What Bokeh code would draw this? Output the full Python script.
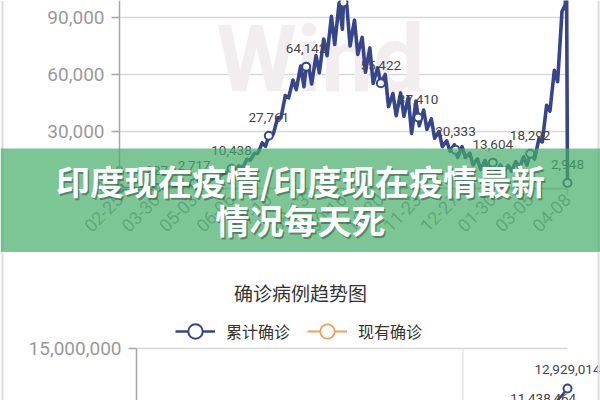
import math
from bokeh.plotting import figure
from bokeh.models import (Range1d, FixedTicker, NumeralTickFormatter, BoxAnnotation,
                          Label, LabelSet, Legend, LegendItem, Span, ColumnDataSource)
from bokeh.layouts import column
from bokeh.embed import file_html
from bokeh.resources import INLINE
from bokeh.core.properties import value

# ---------------- data ----------------
tick_days = [0, 34, 68, 102, 136, 170, 204, 238, 272, 306, 340, 374, 408]
tick_labels = ["02-25", "03-30", "05-03", "06-06", "07-10", "08-13", "09-16",
               "10-20", "11-23", "12-27", "01-30", "03-05", "04-08"]

daily_days = [0, 4, 7, 11, 14, 18, 21, 25, 28, 32, 34, 35, 39, 42, 46, 49, 53, 56, 60, 63,
              67, 68, 70, 74, 77, 81, 84, 88, 91, 95, 98, 101, 102, 105, 109, 112, 116, 119,
              123, 126, 130, 133, 136, 137, 140, 144, 147, 151, 154, 158, 161, 165, 168, 170,
              172, 175, 179, 182, 186, 189, 193, 196, 200, 203, 204, 207, 210, 214, 217, 221,
              224, 228, 231, 235, 238, 242, 245, 249, 252, 256, 259, 263, 266, 270, 272, 273,
              277, 280, 284, 287, 291, 294, 298, 301, 305, 306, 308, 312, 315, 319, 322, 326,
              329, 333, 336, 339, 340, 343, 347, 350, 354, 357, 361, 364, 368, 371, 374, 375,
              378, 382, 385, 389, 392, 396, 399, 403, 406, 407, 408]
daily_cases = [0, 0, 1, 20, 12, 30, 20, 80, 100, 150, 227, 300, 600, 550, 900, 1000, 1300, 1400,
               1800, 1500, 2200, 2717, 2600, 3700, 3500, 4900, 4600, 6600, 6400, 8000, 8200,
               9900, 10438, 9900, 11900, 10700, 15400, 14900, 18500, 18500, 24000, 22200, 27761,
               28600, 28500, 37100, 37100, 48900, 47700, 57100, 52000, 64400, 53600, 64142,
               65000, 55000, 70000, 60900, 78700, 69900, 90600, 75800, 97600, 83800, 97894,
               96400, 75000, 88600, 70600, 79500, 61200, 74000, 55300, 63500, 55422, 60000,
               43000, 50000, 38300, 50300, 38000, 47900, 29000, 46000, 37410, 33000, 41300,
               31100, 36600, 26500, 30000, 22000, 25100, 19600, 23000, 20333, 16400, 22000,
               16300, 18600, 12500, 15600, 10000, 14800, 9100, 13000, 13604, 8600, 12400, 9100,
               12100, 9100, 14200, 10600, 16700, 12300, 18292, 18700, 15400, 26300, 24500,
               43800, 40700, 62200, 56200, 93200, 96900, 126800, 2948]

marked_days = [0, 34, 68, 102, 136, 170, 204, 238, 272, 306, 340, 374, 408]
marked_cases = [0, 227, 2717, 10438, 27761, 64142, 97894, 55422, 37410, 20333, 13604, 18292, 2948]
daily_yticks = [0, 30000, 60000, 90000]

cum_days = [0, 34, 68, 102, 136, 170, 204, 238, 272, 306, 340, 374, 385, 392, 399, 404, 408]
cum_cases = [3, 1251, 42533, 246628, 820916, 2461190, 5118253, 7597063, 9177840, 10207871,
             10746183, 11173761, 11438464, 11846000, 12340000, 12660000, 12929014]
cum_marked_days = [385, 408]
cum_marked_cases = [11438464, 12929014]
active_days = [0, 34, 68, 102, 136, 170, 204, 238, 272, 306, 340, 374, 408]
active_cases = [0, 1100, 29000, 125000, 280000, 660000, 1010000, 740000, 440000, 280000,
                165000, 180000, 900000]
cum_yticks = [0, 3000000, 6000000, 9000000, 12000000, 15000000]
highlight_day = 309

title_text = "确诊病例趋势图"
legend_labels = ["累计确诊", "现有确诊"]
banner_lines = ["印度现在疫情/印度现在疫情最新", "情况每天死"]
watermark = "Wind"

# ---------------- layout / style constants ----------------
W = 600
H_TOP, H_BOT = 252, 148
NAVY = "#37468a"
ORANGE = "#eda15a"
GRID = "#d8d8d8"
AXIS = "#a6a6a6"
TICK_TXT = "#9a9a9a"
BORDER = "#dcdcdc"
FONT_NUM = "Roboto"
FONT_CJK = "Noto Sans CJK SC"

# top panel: day 0 at x=119px, day 408 at x=567px; value 0 at y=188px, 57px per 30,000
T_X0, T_PXD = 119.0, 448.0 / 408
T_Y0, T_PXV = 188.0, 57.0 / 30000
top_x = Range1d(-T_X0 / T_PXD, (W - T_X0) / T_PXD)
top_y = Range1d(-(H_TOP - T_Y0) / T_PXV, T_Y0 / T_PXV)

# bottom panel (starts at y=252): day 0 at x=136, 15M at local y=96, 58px per 3M
B_X0, B_PXD = 136.0, 431.0 / 408
B_Y15, B_PXV = 96.0, 58.0 / 3000000
bot_x = Range1d(-B_X0 / B_PXD, (W - B_X0) / B_PXD)
bot_y = Range1d(15000000 - (H_BOT - B_Y15) / B_PXV, 15000000 + B_Y15 / B_PXV)


def style_axis(ax, ticks, size):
    ax.ticker = FixedTicker(ticks=ticks)
    ax.axis_line_color = AXIS
    ax.axis_line_width = 1.5
    ax.major_tick_line_color = AXIS
    ax.major_tick_line_width = 1.5
    ax.major_tick_in = 0
    ax.minor_tick_line_color = None
    ax.major_label_text_font = FONT_NUM
    ax.major_label_text_font_size = size
    ax.major_label_text_color = TICK_TXT


def bounded_grid(fig, ticks, x_lo, x_hi):
    fig.xgrid.grid_line_color = None
    ok = True
    try:
        fig.ygrid.cross_bounds = (x_lo, x_hi)
    except Exception:
        ok = False
    if ok:
        fig.ygrid.grid_line_color = GRID
        fig.ygrid.grid_line_width = 1.5
    else:
        fig.ygrid.grid_line_color = None
        fig.segment(x0=[x_lo] * len(ticks), x1=[x_hi] * len(ticks), y0=ticks, y1=ticks,
                    line_color=GRID, line_width=1.5, level="underlay")


def base_fig(h, xr, yr):
    f = figure(width=W, height=h, x_range=xr, y_range=yr, output_backend="svg",
               toolbar_location=None, title=None, min_border=0,
               min_border_left=0, min_border_right=0, min_border_top=0, min_border_bottom=0)
    f.outline_line_color = None
    f.background_fill_color = "white"
    f.border_fill_color = "white"
    return f


def card_borders(fig, x0, pxd):
    for px in (2, 598):
        fig.add_layout(Span(location=(px - x0) / pxd, dimension="height",
                            line_color=BORDER, line_width=2))

# ---------------- top chart: daily new cases ----------------
top = base_fig(H_TOP, top_x, top_y)
bounded_grid(top, daily_yticks, 0, 408)
card_borders(top, T_X0, T_PXD)

xa = top.xaxis[0]
style_axis(xa, tick_days, "18px")
xa.fixed_location = 0
xa.bounds = (0, 408)
xa.axis_line_color = "#c4c4c4"
xa.major_tick_line_color = "#c4c4c4"
xa.major_label_overrides = {d: t for d, t in zip(tick_days, tick_labels)}
xa.major_label_orientation = math.pi / 4
xa.major_tick_out = 6
xa.major_label_standoff = 2

ya = top.yaxis[0]
style_axis(ya, daily_yticks, "19px")
ya.fixed_location = 0
ya.bounds = (0, 200000)
ya.formatter = NumeralTickFormatter(format="0,0")
ya.major_tick_out = 8
ya.major_label_standoff = 7

top.text(x=[183], y=[67900], text=[watermark], text_font=value(FONT_NUM),
         text_font_style="bold", text_font_size="92px", text_color="#f2eeef",
         text_align="center", text_baseline="middle")

mark_src = ColumnDataSource(dict(x=marked_days, y=marked_cases,
                                 t=[f"{v:,}" for v in marked_cases]))
top.add_layout(LabelSet(x="x", y="y", text="t", source=mark_src, text_align="center",
                        text_baseline="middle", y_offset=18, text_font=value(FONT_NUM),
                        text_font_size="13.5px", text_color="#454545", level="glyph"))
top.line(daily_days, daily_cases, line_color=NAVY, line_width=3.6, line_join="round")
top.scatter(marked_days, marked_cases, marker="circle", size=8, fill_color="white",
            line_color=NAVY, line_width=2)

# banner overlay
top.add_layout(BoxAnnotation(top=(T_Y0 - 148) / T_PXV, fill_color="#45ae69",
                             fill_alpha=0.7, line_color=None))
for txt, py in zip(banner_lines, [180, 219]):
    yv = (T_Y0 - py) / T_PXV
    xv = (300 - T_X0) / T_PXD
    top.add_layout(Label(x=xv, y=yv, text=txt, text_align="center", text_baseline="middle",
                         text_font=FONT_CJK, text_font_style="bold",
                         text_font_size="34px", text_color="#1d3a28", text_alpha=0.45,
                         x_offset=1.5, y_offset=-1.5))
    top.add_layout(Label(x=xv, y=yv, text=txt, text_align="center", text_baseline="middle",
                         text_font=FONT_CJK, text_font_style="bold",
                         text_font_size="34px", text_color="white"))

# ---------------- bottom chart: cumulative ----------------
bot = base_fig(H_BOT, bot_x, bot_y)
bounded_grid(bot, cum_yticks, 0, 408)
card_borders(bot, B_X0, B_PXD)
bot.xaxis.visible = False
yb = bot.yaxis[0]
style_axis(yb, cum_yticks, "19px")
yb.fixed_location = 0
yb.bounds = (0, 15000000)
yb.formatter = NumeralTickFormatter(format="0,0")
yb.major_tick_out = 8
yb.major_label_standoff = 7

bot.segment(x0=[highlight_day], x1=[highlight_day], y0=[cum_yticks[-1]], y1=[cum_yticks[0]],
            line_color="#e6e6e6", line_width=1.5)

bot.add_layout(Label(x=(300 - B_X0) / B_PXD, y=15000000 + (B_Y15 - 40) / B_PXV,
                     text=title_text, text_align="center", text_baseline="middle",
                     text_font=FONT_CJK, text_font_size="19px", text_color="#333333"))

cum_src = ColumnDataSource(dict(x=cum_marked_days, y=cum_marked_cases,
                                t=[f"{v:,}" for v in cum_marked_cases]))
bot.add_layout(LabelSet(x="x", y="y", text="t", source=cum_src, text_align="center",
                        text_baseline="middle", y_offset=19, text_font=value(FONT_NUM),
                        text_font_size="13.5px", text_color="#454545", level="glyph"))
act_line = bot.line(active_days, active_cases, line_color=ORANGE, line_width=2)
act_pts = bot.scatter(active_days, active_cases, marker="circle", size=8, fill_color="white",
                      line_color=ORANGE, line_width=1.8)
cum_line = bot.line(cum_days, cum_cases, line_color=NAVY, line_width=2.6, line_join="round")
cum_pts = bot.scatter(cum_marked_days, cum_marked_cases, marker="circle", size=8,
                      fill_color="white", line_color=NAVY, line_width=2)

legend = Legend(items=[LegendItem(label=legend_labels[0], renderers=[cum_line, cum_pts]),
                       LegendItem(label=legend_labels[1], renderers=[act_line, act_pts])],
                orientation="horizontal", location=(175, 51), glyph_width=40, glyph_height=36,
                label_standoff=11, spacing=17, padding=0, margin=0,
                label_text_font=FONT_CJK, label_text_font_size="16px",
                label_text_color="#333333", border_line_color=None,
                background_fill_alpha=0)
bot.add_layout(legend)

layout = column(top, bot)
open("out.html", "w").write(file_html(layout, INLINE))
